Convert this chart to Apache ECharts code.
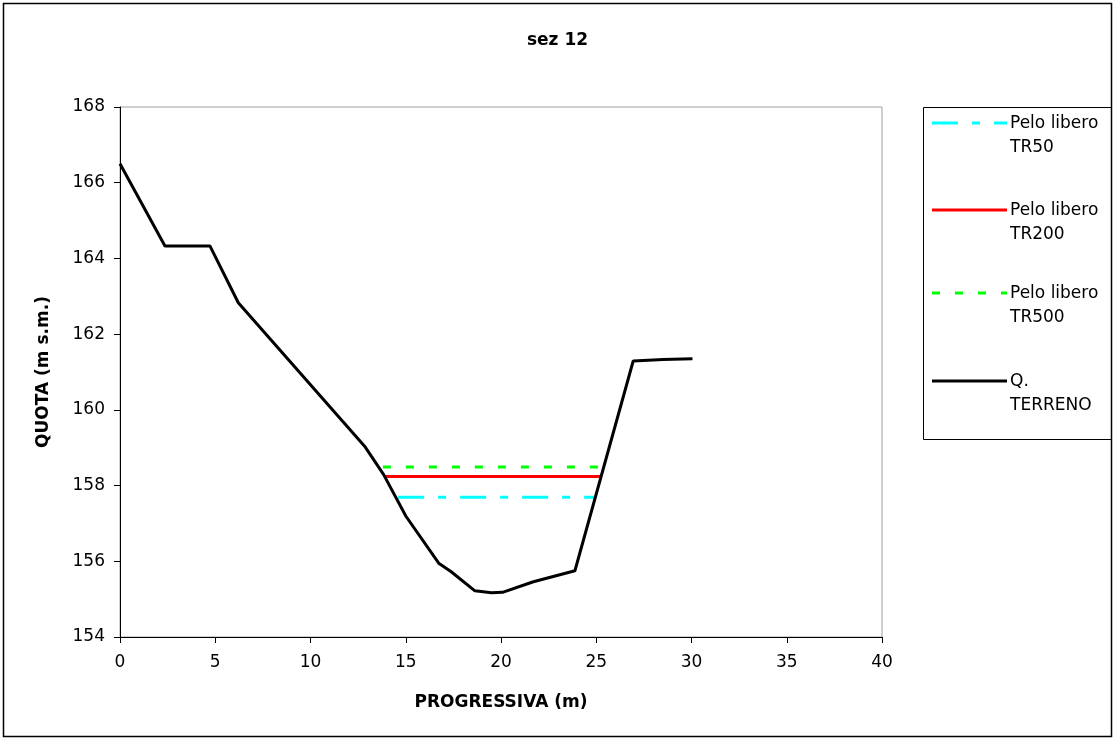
<!DOCTYPE html>
<html>
<head>
<meta charset="utf-8">
<script src="https://cdn.jsdelivr.net/npm/echarts@6/dist/echarts.min.js"></script>
<style>
html,body{margin:0;padding:0;background:#fff;}
#c{width:1115px;height:740px;}
</style>
</head>
<body>
<div id="c"></div>
<script>
// ---- data ----
const terrainX = [0, 2.36, 4.72, 6.21, 12.84, 13.84, 15.01, 16.73, 17.37, 18.63, 19.5, 20.08, 21.7, 23.88, 26.94, 28.5, 30.05];
const terrainY = [166.5, 164.33, 164.33, 162.83, 159.04, 158.29, 157.19, 155.95, 155.73, 155.22, 155.17, 155.18, 155.46, 155.75, 161.29, 161.33, 161.35];
const tr50X = [14.6, 25.0];
const tr50Y = [157.69, 157.69];
const tr200X = [13.85, 25.25];
const tr200Y = [158.24, 158.24];
const tr500X = [13.8, 25.35];
const tr500Y = [158.49, 158.49];
const seriesNames = ['Pelo libero TR50', 'Pelo libero TR200', 'Pelo libero TR500', 'Q. TERRENO'];
const legendLines = [['Pelo libero', 'TR50'], ['Pelo libero', 'TR200'], ['Pelo libero', 'TR500'], ['Q.', 'TERRENO']];
const xTicks = {min: 0, max: 40, interval: 5};
const yTicks = {min: 154, max: 168, interval: 2};

const zip = (xs, ys) => xs.map((x, i) => [x, ys[i]]);

const colors = ['#00ffff', '#ff0000', '#00ff00', '#000000'];
const dashes = [[26, 14, 8, 14], 'solid', [8, 15], 'solid'];
const FONT = 'DejaVu Sans, Liberation Sans, Arial, sans-serif';

const chart = echarts.init(document.getElementById('c'), null, {renderer: 'canvas'});

// legend built with graphics
const legendGraphics = [];
legendGraphics.push({
  type: 'rect', shape: {x: 923.5, y: 107.5, width: 188, height: 332},
  style: {fill: '#fff', stroke: '#000', lineWidth: 1}, z: 10
});
const legendY = [123, 210, 293, 381];
legendLines.forEach((ln, i) => {
  legendGraphics.push({
    type: 'line', shape: {x1: 932, y1: legendY[i], x2: 1007, y2: legendY[i]},
    style: {stroke: colors[i], lineWidth: 3, lineDash: dashes[i] === 'solid' ? null : dashes[i]}, z: 11
  });
  legendGraphics.push({
    type: 'text', x: 1010, y: legendY[i] - 11,
    style: {text: ln[0] + '\n' + ln[1], font: '17px ' + FONT, fill: '#000', lineHeight: 24, textVerticalAlign: 'top'},
    z: 11
  });
});

const option = {
  backgroundColor: '#fff',
  animation: false,
  title: {
    text: 'sez 12', left: 'center', top: 27,
    textStyle: {fontFamily: FONT, fontSize: 17, fontWeight: 'bold', color: '#000'}
  },
  grid: {left: 120, top: 107, right: 233, bottom: 103, show: true, borderColor: '#a0a0a0', borderWidth: 1, backgroundColor: '#fff'},
  xAxis: {
    type: 'value', min: xTicks.min, max: xTicks.max, interval: xTicks.interval,
    name: 'PROGRESSIVA (m)', nameLocation: 'middle', nameGap: 57,
    nameTextStyle: {fontFamily: FONT, fontSize: 17, fontWeight: 'bold', color: '#000'},
    axisLine: {show: true, onZero: false, lineStyle: {color: '#000', width: 1}},
    axisTick: {show: true, inside: false, length: 6, lineStyle: {color: '#000'}},
    axisLabel: {fontFamily: FONT, fontSize: 17, color: '#000', margin: 17},
    splitLine: {show: false}
  },
  yAxis: {
    type: 'value', min: yTicks.min, max: yTicks.max, interval: yTicks.interval,
    name: 'QUOTA (m s.m.)', nameLocation: 'middle', nameGap: 68, nameRotate: 90,
    nameTextStyle: {fontFamily: FONT, fontSize: 17, fontWeight: 'bold', color: '#000'},
    axisLine: {show: true, onZero: false, lineStyle: {color: '#000', width: 1}},
    axisTick: {show: true, inside: false, length: 6, lineStyle: {color: '#000'}},
    axisLabel: {fontFamily: FONT, fontSize: 17, color: '#000', margin: 15},
    splitLine: {show: false}
  },
  series: [
    {name: seriesNames[0], type: 'line', data: zip(tr50X, tr50Y), showSymbol: false, lineStyle: {color: colors[0], width: 3, type: dashes[0]}, z: 3},
    {name: seriesNames[1], type: 'line', data: zip(tr200X, tr200Y), showSymbol: false, lineStyle: {color: colors[1], width: 3, type: dashes[1]}, z: 3},
    {name: seriesNames[2], type: 'line', data: zip(tr500X, tr500Y), showSymbol: false, lineStyle: {color: colors[2], width: 3, type: dashes[2]}, z: 3},
    {name: seriesNames[3], type: 'line', data: zip(terrainX, terrainY), showSymbol: false, lineStyle: {color: colors[3], width: 3}, z: 4}
  ],
  graphic: [
    {type: 'rect', shape: {x: 3.5, y: 3.5, width: 1108, height: 733}, style: {fill: null, stroke: '#000', lineWidth: 1.5}, z: 20, silent: true}
  ].concat(legendGraphics)
};
chart.setOption(option);
</script>
</body>
</html>
